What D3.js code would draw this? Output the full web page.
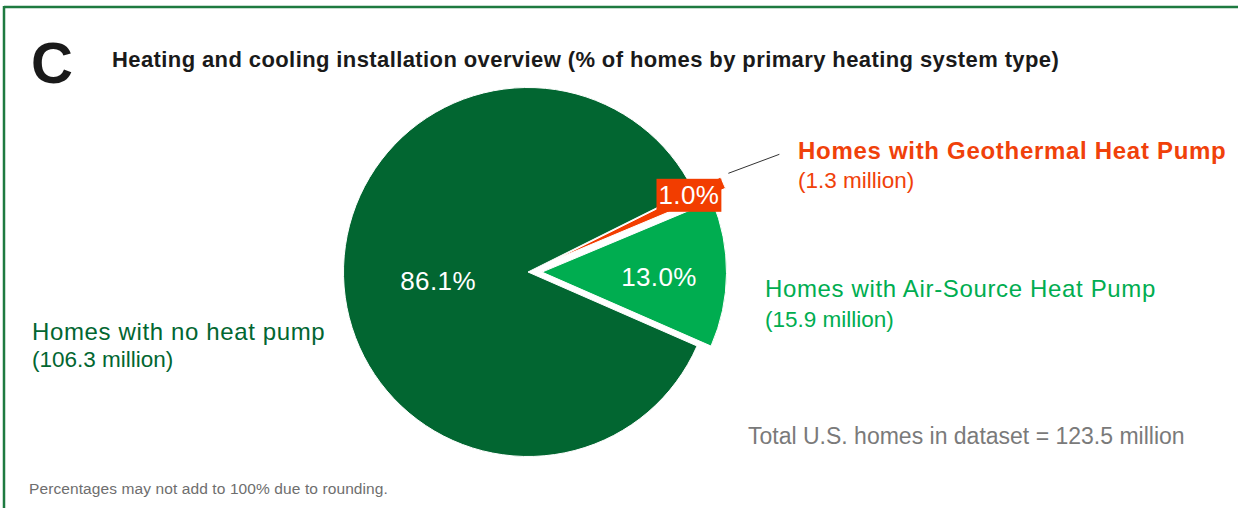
<!DOCTYPE html>
<html>
<head>
<meta charset="utf-8">
<script src="https://cdn.jsdelivr.net/npm/d3@7"></script>
<style>
  html, body { margin: 0; padding: 0; background: #fff; }
  svg { display: block; font-family: "Liberation Sans", Arial, sans-serif; }
</style>
</head>
<body>
<svg id="chart" width="1238" height="508"></svg>
<script>
// ---- data ----
const categories = ["Homes with Geothermal Heat Pump", "Homes with Air-Source Heat Pump", "Homes with no heat pump"];
const millions = [1.3, 15.9, 106.3];
const percentLabels = ["1.0%", "13.0%", "86.1%"];
const millionLabels = ["(1.3 million)", "(15.9 million)", "(106.3 million)"];
const totalLabel = "Total U.S. homes in dataset = 123.5 million";
const panelLetter = "C";
const titleText = "Heating and cooling installation overview (% of homes by primary heating system type)";
const footnote = "Percentages may not add to 100% due to rounding.";

// ---- style / layout ----
const colors = ["#F23D00", "#00AD50", "#026631"];
const textColors = ["#F0410A", "#00AD50", "#026631"];
const explode = [30, 14, 0];
const labelRadius = [177, 131, 90];
const labelDy = [-3, 4, 7];
const W = 1238, H = 508;
const cx = 528, cy = 272, R = 184.5;
const startDeg = 63.5;

const svg = d3.select("#chart");

// frame (top and left edges)
svg.append("line").attr("x1", 4).attr("x2", W).attr("y1", 7).attr("y2", 7)
  .attr("stroke", "#1E7A40").attr("stroke-width", 2.5);
svg.append("line").attr("x1", 4).attr("x2", 4).attr("y1", 6).attr("y2", H)
  .attr("stroke", "#1E7A40").attr("stroke-width", 2.5);

// heading
svg.append("text").attr("x", 31).attr("y", 83)
  .attr("font-size", 58).attr("font-weight", "bold").attr("fill", "#1a1a1a")
  .text(panelLetter);
svg.append("text").attr("x", 112).attr("y", 67)
  .attr("font-size", 22).attr("font-weight", "bold").attr("letter-spacing", 0.4)
  .attr("fill", "#1a1a1a")
  .text(titleText);

// pie
const a0 = startDeg * Math.PI / 180;
const pie = d3.pie().sort(null).value(d => d).startAngle(a0).endAngle(a0 + 2 * Math.PI);
const arcs = pie(millions);
const arc = d3.arc().innerRadius(0).outerRadius(R);

const g = svg.append("g").attr("transform", `translate(${cx},${cy})`);
const mid = d => (d.startAngle + d.endAngle) / 2;

const order = [2, 1, 0];
order.forEach(i => {
  const d = arcs[i];
  const m = mid(d);
  const ox = explode[i] * Math.sin(m), oy = -explode[i] * Math.cos(m);
  g.append("path").attr("d", arc(d))
    .attr("transform", `translate(${ox},${oy})`)
    .attr("fill", colors[i])
    .attr("stroke", "#fff").attr("stroke-width", 1);
});

// percent labels
arcs.forEach((d, i) => {
  const m = mid(d);
  const x = labelRadius[i] * Math.sin(m), y = -labelRadius[i] * Math.cos(m) + labelDy[i];
  const t = g.append("text").attr("x", x).attr("y", y)
    .attr("text-anchor", "middle").attr("dominant-baseline", "central")
    .attr("font-size", 26).attr("letter-spacing", 0.4)
    .attr("fill", "#fff").text(percentLabels[i]);
  if (i === 0) {
    const bb = t.node().getBBox();
    g.insert("rect", "text")
      .attr("x", bb.x - 2).attr("y", y - 16.5).attr("width", bb.width + 4).attr("height", 33)
      .attr("fill", colors[i]);
    const lx = bb.x + bb.width + 9, ly = y - 22;
    g.append("line").attr("x1", lx).attr("y1", ly).attr("x2", lx + 51).attr("y2", ly - 19)
      .attr("stroke", "#333").attr("stroke-width", 1);
  }
});

// category labels
const catPos = [[798, 159, 188], [765, 297, 327], [32, 340, 367]];
const catLS = [0.7, 0.65, 0.63];
categories.forEach((c, i) => {
  const [x, y1, y2] = catPos[i];
  svg.append("text").attr("x", x).attr("y", y1)
    .attr("font-size", 24).attr("font-weight", i === 0 ? "bold" : "normal")
    .attr("letter-spacing", catLS[i])
    .attr("fill", textColors[i]).text(c);
  svg.append("text").attr("x", x).attr("y", y2)
    .attr("font-size", 22.5).attr("fill", textColors[i]).text(millionLabels[i]);
});

svg.append("text").attr("x", 748).attr("y", 444)
  .attr("font-size", 23).attr("fill", "#7a7a7a").text(totalLabel);

svg.append("text").attr("x", 29).attr("y", 494)
  .attr("font-size", 15.5).attr("letter-spacing", 0.1).attr("fill", "#6e6e6e").text(footnote);
</script>
</body>
</html>
